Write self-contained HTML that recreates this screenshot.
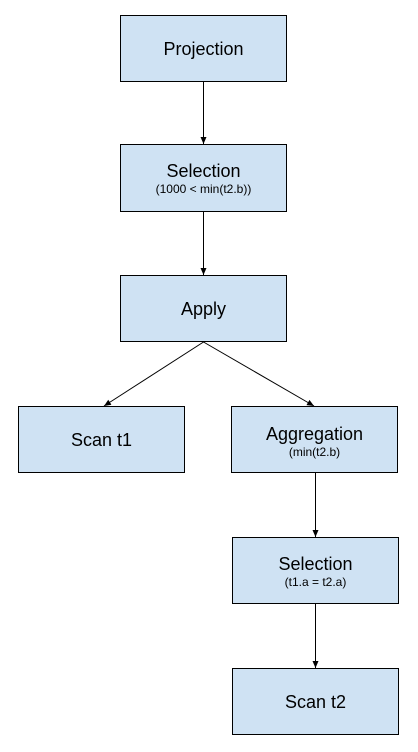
<!DOCTYPE html>
<html><head><style>
body{margin:0;background:#fff;width:418px;height:747px;overflow:hidden}
svg text{font-family:"Liberation Sans",sans-serif;fill:#000}
</style></head><body>
<svg width="418" height="747" viewBox="0 0 418 747">
<defs><marker id="a" markerWidth="8" markerHeight="8" refX="7" refY="4" orient="auto" markerUnits="userSpaceOnUse"><path d="M0,1 L7,4 L0,7 z" fill="#000"/></marker></defs>
<g fill="#cfe2f3" stroke="#000" stroke-width="1">
<rect x="120.5" y="15.5" width="166" height="66"/>
<rect x="120.5" y="144.5" width="166" height="67"/>
<rect x="120.5" y="275.5" width="166" height="66"/>
<rect x="18.5" y="406.5" width="166" height="66"/>
<rect x="231.5" y="406.5" width="166" height="66"/>
<rect x="232.5" y="537.5" width="166" height="66"/>
<rect x="232.5" y="668.5" width="166" height="66"/>
</g>
<g stroke="#000" stroke-width="1" marker-end="url(#a)">
<line x1="203.5" y1="82" x2="203.5" y2="144"/>
<line x1="203.5" y1="212" x2="203.5" y2="275"/>
<line x1="203.5" y1="342" x2="104" y2="406"/>
<line x1="203.5" y1="342" x2="314" y2="406"/>
<line x1="315.5" y1="473" x2="315.5" y2="537"/>
<line x1="315.5" y1="604" x2="315.5" y2="668"/>
</g>
<g text-anchor="middle" font-size="18">
<text x="203.5" y="55">Projection</text>
<text x="203.5" y="177">Selection</text>
<text x="203.5" y="315">Apply</text>
<text x="101.5" y="446">Scan t1</text>
<text x="314.5" y="440">Aggregation</text>
<text x="315.5" y="570">Selection</text>
<text x="315.5" y="708">Scan t2</text>
</g>
<g text-anchor="middle" font-size="12">
<text x="203.5" y="193">(1000 &lt; min(t2.b))</text>
<text x="314.5" y="456">(min(t2.b)</text>
<text x="315.5" y="586">(t1.a = t2.a)</text>
</g>
</svg>
</body></html>
